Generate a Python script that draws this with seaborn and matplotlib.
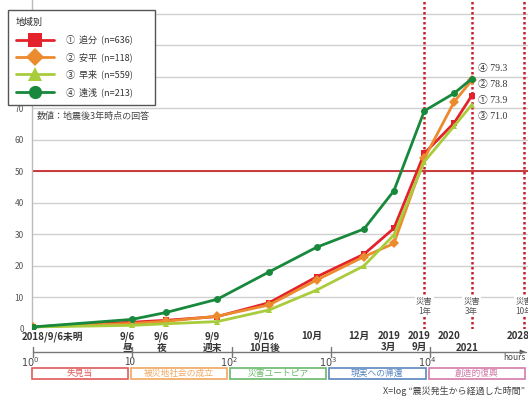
import numpy as np
import pandas as pd
import matplotlib
matplotlib.use('Agg')
import matplotlib.pyplot as plt
import seaborn as sns
from matplotlib.transforms import blended_transform_factory
from matplotlib.patches import Rectangle
from matplotlib.lines import Line2D

sns.set_theme(style='white')
plt.rcParams['font.family'] = ['Noto Sans CJK JP', 'DejaVu Sans']

# ---------------- data ----------------
hours = [1, 10, 22, 72, 240, 720, 2160, 4320, 8760, 17520, 26280]
tick_hours = [1, 10, 22, 72, 240, 720, 2160, 4320, 8760, 17520, 26280, 87600]
tick_labels = ['2018/9/6未明', '9/6\n昼', '9/6\n夜', '9/9\n週末', '9/16\n10日後', '10月', '12月',
               '2019\n3月', '2019\n9月', '2020', '\n2021', '2028']

nums = ['①', '②', '③', '④']
regions = ['追分', '安平', '早来', '遠浅']
n_counts = [636, 118, 559, 213]

oiwake = [0.5, 2.0, 2.6, 3.8, 8.2, 16.4, 23.6, 31.8, 55.6, 65.3, 73.9]
abira = [0.5, 1.6, 2.3, 3.9, 7.5, 15.4, 22.8, 27.0, 54.0, 72.0, 78.8]
hayakita = [0.5, 1.0, 1.5, 2.2, 5.9, 12.2, 19.9, 29.7, 53.0, 64.3, 71.0]
toasa = [0.5, 2.9, 5.1, 9.3, 18.0, 25.8, 31.6, 43.7, 69.1, 74.7, 79.3]
series = [oiwake, abira, hayakita, toasa]

milestone_hours = [8760, 26280, 87600]
milestone_labels = ['災害\n1年', '災害\n3年', '災害\n10年']

decade_hours = [1, 10, 100, 1000, 10000]
decade_labels = ['$10^0$', '10', '$10^2$', '$10^3$', '$10^4$']

phases = ['失見当', '被災地社会の成立', '災害ユートピア', '現実への帰還', '創造的復興']
phase_colors = ['#e05a5a', '#f0a860', '#6ab86a', '#5a86c0', '#d47aa8']

colors = ['#e3222b', '#ec8a2e', '#a9cc3c', '#17883c']
markers = ['s', 'D', '^', 'o']

labels = [f'{nm}  {rg}  (n={n})' for nm, rg, n in zip(nums, regions, n_counts)]
rows = []
for lab, vals in zip(labels, series):
    for h, v in zip(hours, vals):
        rows.append({'hours': h, 'value': v, 'label': lab})
df = pd.DataFrame(rows)

# ---------------- figure ----------------
W, H = 528, 398
fig = plt.figure(figsize=(W / 100, H / 100), dpi=100)
fig.patch.set_facecolor('white')
ax_left, ax_bottom_px = 32, 328.5
ax = fig.add_axes([ax_left / W, 1 - ax_bottom_px / H, 1 - ax_left / W, ax_bottom_px / H])
ax.set_xscale('log')

def fy(py):
    return 1 - py / H

# grid
for yv in range(10, 101, 10):
    ax.axhline(yv, color='#d0d0d0', lw=1, zorder=0.5)
ax.axhline(50, color='#c8383a', lw=1.4, zorder=1)
for mh in milestone_hours:
    ax.axvline(mh, color='#c8202a', lw=1.8, ls=(0, (1, 1)), zorder=1.2)

pal = dict(zip(labels, colors))
mk = dict(zip(labels, markers))
sns.lineplot(data=df, x='hours', y='value', hue='label', hue_order=labels,
             palette=pal, style='label', style_order=labels, markers=mk,
             dashes=False, lw=2, markersize=5, markeredgewidth=0, ax=ax, zorder=3)

ax.set_xlim(0.977, 97000)
ax.set_ylim(0, 104.3)
ax.set_yticks(range(0, 101, 10))
ax.set_yticklabels([str(v) for v in range(0, 101, 10)], fontsize=6, color='#555')
ax.tick_params(axis='y', length=0, pad=6)
ax.set_xticks([])
ax.set_xlabel('')
ax.set_ylabel('')
for s in ['top', 'right', 'bottom']:
    ax.spines[s].set_visible(False)
ax.spines['left'].set_color('#bbbbbb')
ax.spines['left'].set_linewidth(1)

# legend
h, l = ax.get_legend_handles_labels()
leg = ax.legend(h, l, title='地域別', loc='upper left',
                bbox_to_anchor=(8 / W, 1 - 103 / H, 147 / W, 93 / H),
                bbox_transform=fig.transFigure, mode='expand',
                borderaxespad=0, fontsize=6.5, title_fontsize=6.5, frameon=True,
                fancybox=False, edgecolor='#555555', framealpha=1,
                handlelength=4.2, handletextpad=1.3, labelspacing=0.85,
                markerscale=1.9, alignment='left', borderpad=0.9)
leg.get_frame().set_linewidth(1)
leg.set_zorder(10)
for t in leg.get_texts():
    t.set_color('#333')

# note
fig.text(37 / W, fy(116), '数値：地震後3年時点の回答', fontsize=6.5, color='#444', va='center')

# final value annotations
order = np.argsort([-s[-1] for s in series])
top_val, step = 82.7, 5.1
for i, idx in enumerate(order):
    ax.text(30500, top_val - i * step, f'{nums[idx]} {series[idx][-1]:.1f}',
            fontsize=7, color='#333', va='center', ha='left',
            family=['Liberation Serif', 'Noto Sans CJK JP'], zorder=5)

# milestone labels
for mh, ml in zip(milestone_hours, milestone_labels):
    ax.text(mh, 7.1, ml, fontsize=6, color='#555', ha='center', va='center',
            linespacing=1.15, zorder=4, clip_on=False,
            bbox=dict(facecolor='white', edgecolor='none', pad=0.6))

# x tick labels (time points)
bt = blended_transform_factory(ax.transData, fig.transFigure)
for th, tl in zip(tick_hours, tick_labels):
    dx = 19 if th == 1 else -5
    top_px = 331
    if tl.startswith('\n'):
        tl = tl.lstrip('\n')
        top_px += 12
    ax.annotate(tl, xy=(th, fy(top_px)), xycoords=bt, xytext=(dx * 0.72, 0),
                textcoords='offset points', ha='center', va='top',
                fontsize=7, color='#333', linespacing=1.15,
                fontweight='bold', annotation_clip=False)

# secondary log axis
fig.add_artist(Line2D([1, 93000], [fy(352), fy(352)], transform=bt, color='#777', lw=1))
ax.annotate('', xy=(97000, fy(352)), xycoords=bt, xytext=(80000, fy(352)),
            textcoords=bt, annotation_clip=False,
            arrowprops=dict(arrowstyle='-|>', color='#555', lw=1, mutation_scale=6))
for dh, dl in zip(decade_hours, decade_labels):
    fig.add_artist(Line2D([dh, dh], [fy(347), fy(357)], transform=bt, color='#777', lw=1))
    ax.annotate(dl, xy=(dh, fy(362)), xycoords=bt, xytext=(-2, 0),
                textcoords='offset points', ha='center', va='center',
                fontsize=7, color='#444', annotation_clip=False)
fig.text(1 - 2 / W, fy(358), 'hours', fontsize=6, color='#444', ha='right', va='center')

# phase boxes
for k, (pn, pc) in enumerate(zip(phases, phase_colors)):
    x0 = 10 ** k * 0.97
    x1 = 10 ** (k + 1) * 0.9
    rect = Rectangle((x0, fy(379)), x1 - x0, (379 - 368) / H, transform=bt,
                     facecolor='white', edgecolor=pc, lw=1.2, clip_on=False)
    fig.add_artist(rect)
    xm = np.sqrt(x0 * x1)
    fig.text(xm, fy(373.5), pn, transform=bt, fontsize=6.3, color=pc,
             ha='center', va='center')

fig.text(383 / W, fy(391), 'X=log “震災発生から経過した時間”', fontsize=6.5, color='#444',
         ha='left', va='center')

fig.savefig('out.png', dpi=100, facecolor='white')
